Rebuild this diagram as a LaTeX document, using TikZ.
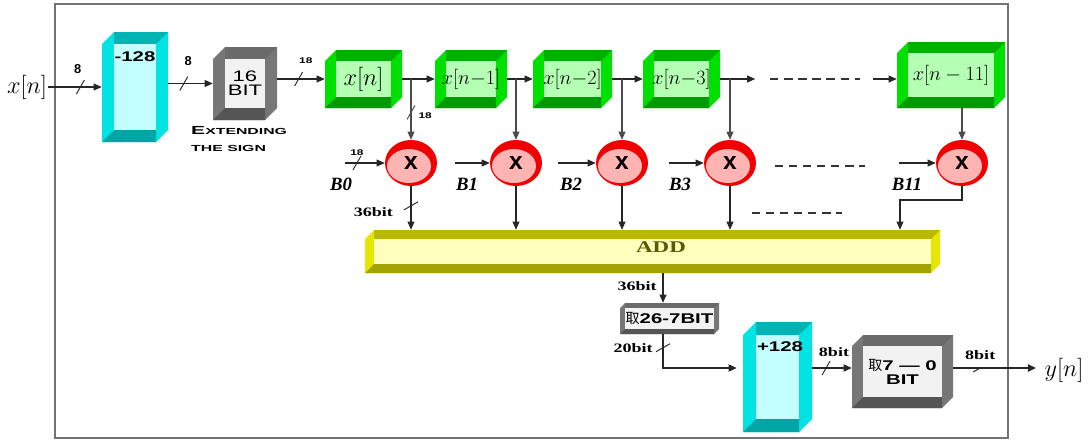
\documentclass[tikz,border=0pt]{standalone}
\usepackage{fontspec}
\setmainfont{Liberation Serif}
\setsansfont{Liberation Sans}
\newfontfamily\cjk{Noto Sans CJK SC}
\newfontfamily\widesans[FakeStretch=1.45]{Liberation Sans}
\newfontfamily\xwidesans[FakeStretch=1.8]{Liberation Sans}
\newfontfamily\wideserif[FakeStretch=1.4]{Liberation Serif}
\usetikzlibrary{arrows.meta, calc, fit, shapes.geometric}
\definecolor{cyface}{HTML}{C4FFFF}
\definecolor{cyside}{HTML}{00E3E3}
\definecolor{cytop}{HTML}{00B4B4}
\definecolor{cybot}{HTML}{00A5A5}
\definecolor{grface}{HTML}{B4FFB4}
\definecolor{grside}{HTML}{00E000}
\definecolor{grtop}{HTML}{00B000}
\definecolor{grbot}{HTML}{009A00}
\definecolor{gyface}{HTML}{F2F2F2}
\definecolor{gyside}{HTML}{777777}
\definecolor{gytop}{HTML}{6A6A6A}
\definecolor{gybot}{HTML}{555555}
\definecolor{ylface}{HTML}{FFFFBE}
\definecolor{ylside}{HTML}{E6E600}
\definecolor{yltop}{HTML}{B9B900}
\definecolor{ylbot}{HTML}{A3A300}
\definecolor{multred}{HTML}{F00000}
\definecolor{multpink}{HTML}{FFB4B4}
\definecolor{addtxt}{HTML}{5A5A00}
% bevelled box: name, colour set, left, top, right, bottom, bevel, text
\newcommand\bevbox[8]{%
  \fill[#2side] (#3,#4+#7) -- (#3+#7,#4) -- (#5,#4) -- (#5,#6-#7) -- (#5-#7,#6) -- (#3,#6) -- cycle;
  \fill[#2top] (#3+#7,#4) -- (#5,#4) -- (#5-#7,#4+#7) -- (#3+#7,#4+#7) -- cycle;
  \fill[#2bot] (#3,#6) -- (#3+#7,#6-#7) -- (#5-#7,#6-#7) -- (#5-#7,#6) -- cycle;
  \fill[#2face] (#3+#7,#4+#7) rectangle (#5-#7,#6-#7);
  \node[fit={(#3,#4) (#5,#6)}, inner sep=0pt] (#1) {};
  \node[align=center, inner sep=0pt] at (#1.center) {#8};
}
% multiplier: name, x, y
\newcommand\mult[3]{%
  \fill[multred] (#2,#3) ellipse [x radius=26, y radius=23];
  \fill[multpink] (#2-2,#3+3) ellipse [x radius=22, y radius=17];
  \node[multx] (#1) at (#2,#3) {x};
}
\newcommand\boxfont{\widesans\fontsize{13}{17}\selectfont}
\newcommand\boldbox{\widesans\bfseries\fontsize{12}{15}\selectfont}
\begin{document}
\begin{tikzpicture}[x=0.03cm, y=-0.03cm,
  sig/.style={draw=black!85, line width=0.9pt, -{Triangle[length=7pt, width=6pt]}},
  tap/.style={sig, draw=black!70},
  wide/.style={sig, line width=1.5pt},
  dashline/.style={draw=black!80, line width=1.3pt, dash pattern=on 7pt off 5pt},
  multx/.style={ellipse, inner sep=0pt, minimum width=1.56cm, minimum height=1.38cm,
    font=\sffamily\bfseries\fontsize{21}{22}\selectfont},
  blbl/.style={font=\bfseries\itshape\fontsize{16}{18}\selectfont},
  wlbl/.style={font=\wideserif\bfseries\fontsize{11}{12}\selectfont, inner sep=1pt},
  nlbl/.style={font=\sffamily\bfseries\fontsize{11}{12}\selectfont, inner sep=1pt},
  tiny/.style={font=\widesans\bfseries\fontsize{7}{8}\selectfont, inner sep=1pt},
  sigtxt/.style={font=\fontsize{20}{24}\selectfont, inner sep=1pt},
  bus/.pic={\draw[-, solid, line width=0.8pt] (-4,7) -- (4,-7);},
  busflat/.pic={\draw[-, solid, line width=0.8pt] (-7,4) -- (7,-4);}]
\useasboundingbox (0,0) rectangle (1092,441);
\draw[black!55, line width=1.2pt] (55,4) rectangle (1008,438);

% input, offset and sign extension
\node[sigtxt] (xin) at (27,87) {$x[n]$};
\bevbox{sub}{cy}{102}{32}{168}{142}{12}{}
\node[font=\widesans\bfseries\fontsize{12}{14}\selectfont] at (135,57) {-128};
\bevbox{ext}{gy}{213}{47}{277}{120}{12}{{\boxfont 16}\\{\boxfont BIT}}
\node[anchor=west, align=left, inner sep=0pt, font=\xwidesans\bfseries\fontsize{7.5}{15}\selectfont] (extlbl) at (191,139)
  {{\fontsize{10}{15}\selectfont E}XTENDING\\THE SIGN};
\draw[sig] (xin.east) -- pic[pos=.6]{bus} node[pos=.55, above=10pt, nlbl]{8} (sub.west);
\draw[sig] (sub.east |- ext.west) -- pic[pos=.35]{bus} node[pos=.45, above=14pt, nlbl]{8} (ext.west);

% delay line
\bevbox{g0}{gr}{325}{50}{402}{108}{11}{\fontsize{20}{24}\selectfont$x[n]$}
\bevbox{g1}{gr}{435}{50}{507}{108}{11}{\fontsize{17}{20}\selectfont$x[n{-}1]$}
\bevbox{g2}{gr}{533}{50}{612}{108}{11}{\fontsize{17}{20}\selectfont$x[n{-}2]$}
\bevbox{g3}{gr}{643}{50}{720}{108}{11}{\fontsize{17}{20}\selectfont$x[n{-}3]$}
\bevbox{g11}{gr}{897}{42}{1005}{108}{11}{\fontsize{18}{22}\selectfont$x[n-11]$}
\draw[sig] (g0.west -| ext.east) -- pic[pos=.45]{bus} node[pos=.6, above=12pt, tiny]{18} (g0.west);
\draw[sig] (g0.east) -- (g1.west);
\draw[sig] (g1.east) -- (g2.west);
\draw[sig] (g2.east) -- (g3.west);
\draw[sig] (g3.east) -- ($(g3.east)+(35,0)$);
\draw[dashline] ($(g3.east)+(50,0)$) -- ($(g11.west |- g3.east)+(-37,0)$);
\draw[sig] ($(g11.west |- g3.east)+(-24,0)$) -- (g11.west |- g3.east);

% multipliers
\foreach \i/\x/\s/\bx in {0/411/345/341, 1/516/455/467, 2/622/558/571, 3/730/669/680, 11/962/899/907}{
  \mult{m\i}{\x}{163}
  \node[blbl] (b\i) at (\bx,184) {B\i};
  \coordinate (bin\i) at (\s,163);
}
\draw[sig] (bin0) -- pic[pos=.3]{bus} node[pos=.3, above=5pt, tiny]{18} (m0.west);
\foreach \i in {1,2,3,11}
  \draw[sig] (bin\i) -- (m\i.west);
\draw[tap] (m0 |- g0.east) -- pic[pos=.55]{bus} node[pos=.6, right=5pt, tiny]{18} (m0.north);
\draw[tap] (m1 |- g1.east) -- (m1.north);
\draw[tap] (m2 |- g2.east) -- (m2.north);
\draw[tap] (m3 |- g3.east) -- (m3.north);
\draw[tap] (g11.south -| m11) -- (m11.north);
\draw[dashline] (775,166) -- (865,166);

% adder
\bevbox{add}{yl}{365}{230}{940}{273}{9}{}
\node[font=\wideserif\bfseries\fontsize{14}{16}\selectfont, text=addtxt] at (661,247) {ADD};
\draw[sig] (m0.south) -- pic[pos=.45]{busflat} node[pos=.6, left=14pt, wlbl]{36bit} (m0.south |- add.north);
\foreach \i in {1,2,3}
  \draw[sig] (m\i.south) -- (m\i.south |- add.north);
\coordinate (j11) at (900,200);
\draw[sig] (m11.south) |- (j11) -- (j11 |- add.north);
\draw[dashline] (752,213) -- (842,213);

% output stage
\bevbox{t26}{gy}{620}{303}{719}{334}{5}{{\cjk\fontsize{12}{14}\selectfont 取}{\widesans\bfseries\fontsize{12}{14}\selectfont 26-7BIT}}
\bevbox{p128}{cy}{743}{322}{812}{432}{13}{}
\node[font=\widesans\bfseries\fontsize{12}{14}\selectfont] at (780,347) {+128};
\bevbox{t70}{gy}{852}{335}{953}{408}{11}{{\cjk\fontsize{12}{15}\selectfont 取}{\boldbox 7 — 0}\\{\boldbox BIT}}
\node[sigtxt] (yout) at (1064,370) {$y[n]$};
\coordinate (sumx) at (663,0);
\coordinate (rowy) at (0,368);
\draw[sig] (add.south -| sumx) -- node[pos=.45, left=4pt, wlbl]{36bit} (t26.north -| sumx);
\draw[wide] (t26.south -| sumx) |- pic[pos=.2]{busflat} node[pos=.2, left=7pt, wlbl]{20bit} ($(p128.west |- rowy)+(-6,0)$);
\draw[wide] (p128.east |- rowy) -- pic[pos=.35]{bus} node[pos=.55, above=8pt, wlbl]{8bit} (t70.west |- rowy);
\draw[wide, shorten >=6pt] (t70.east |- rowy) -- pic[pos=.3]{busflat} node[pos=.3, above=5pt, wlbl]{8bit} (yout.west |- rowy);
\end{tikzpicture}
\end{document}
